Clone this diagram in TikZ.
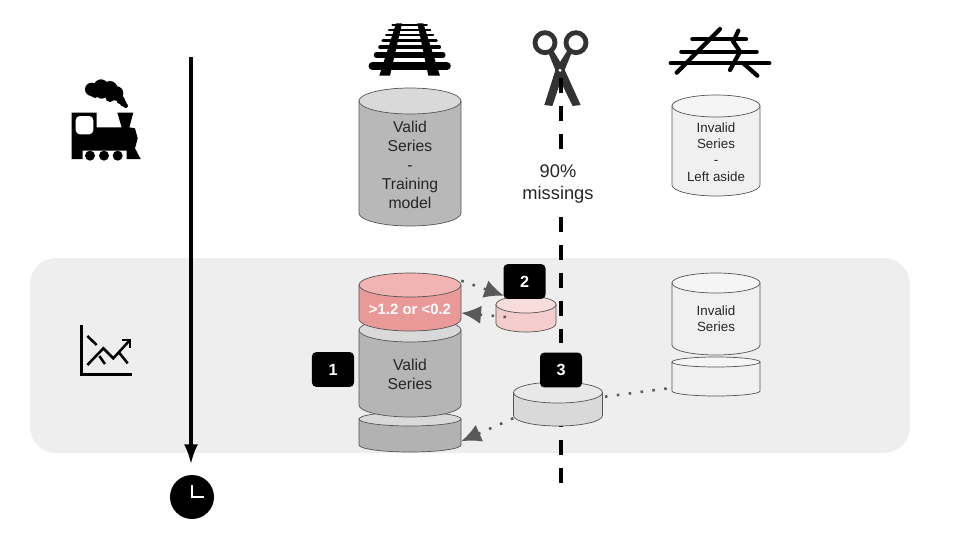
\documentclass[tikz,border=0pt]{standalone}
\usepackage{fontspec}
\setmainfont{Liberation Sans}
\usetikzlibrary{arrows.meta}
\definecolor{bandgray}{HTML}{EEEEEE}
\definecolor{dotgray}{HTML}{595959}
\definecolor{drumedge}{HTML}{555555}
\definecolor{roseside}{HTML}{EA9999}
\definecolor{roselid}{HTML}{F2B3B3}
\definecolor{paleside}{HTML}{F4CCCC}
\definecolor{palelid}{HTML}{F8DCDC}
\tikzset{>=latex}
\tikzset{
  drumtext/.style={align=center,text=black!85,font=\fontsize{11.2}{13.6}\selectfont},
  smalltext/.style={align=center,text=black!85,font=\fontsize{9.5}{11.6}\selectfont},
  badge/.style={fill=black,text=white,rounded corners=3pt,minimum width=1.05cm,minimum height=0.87cm,inner sep=0,font=\fontsize{11.5}{13}\selectfont\bfseries},
  dotted link/.style={dotgray,line width=1.8pt,dash pattern=on 1.8pt off 6.7pt},
  dotted arrow/.style={dotted link,-{Latex[length=14pt,width=13pt]}},
  track/.style={black,line cap=round},
}
% name, x, half width, top, bottom, lid radius, body colour, lid colour
\newcommand{\drum}[8]{%
  \node[inner sep=0,minimum width={2*#3*0.025cm},minimum height={(#5-#4)*0.025cm}] (#1) at (#2,{(#4+#5)/2}) {};
  \draw[drumedge,line width=0.5pt,fill=#7] (#2-#3,#4+#6) -- (#2-#3,#5-#6)
    arc[start angle=180,end angle=0,x radius=#3,y radius=#6] -- (#2+#3,#4+#6) -- cycle;
  \draw[drumedge,line width=0.5pt,fill=#8] (#2,#4+#6) ellipse[x radius=#3,y radius=#6];
}
\begin{document}
\begin{tikzpicture}[x=0.025cm,y=-0.025cm]
\useasboundingbox (0,0) rectangle (960,540);

\fill[bandgray,rounded corners=0.65cm] (30,258) rectangle (910,453);

% time axis
\node[circle,fill=black,minimum size=1.1cm,inner sep=0] (clock) at (192,497) {};
\coordinate (timestart) at (191,57);
\coordinate (timeend) at (191,464);
\draw[-{Latex[length=14pt,width=10pt]},line width=2.2pt] (timestart)--(timeend);
\draw[white,line width=1.8pt] (192,485)--(192,497)--(204,497);

% train
\begin{scope}[shift={(30,10)},scale=1/3]
\fill (125,308)--(200,308)--(200,352)--(275,352)--(262,308)--(310,308)--(298,352)--(315,355)--(323,385)--(315,415)--(332,447)--(290,447)--(290,422)--(158,422)--(158,447)--(125,447)--cycle;
\fill[white,rounded corners=3pt] (137,318) rectangle (190,373);
\foreach \wx in {180,222,263} \fill (\wx,437) circle (15);
\foreach \sx/\sy/\sr in {185/238/20,213/230/22,240/235/22,215/248/18,258/250/22,195/250/14,240/262/14,272/270/13,280/280/10,287/287/7} \fill (\sx,\sy) circle (\sr);
\end{scope}

% chart
\begin{scope}[shift={(60,310)},scale=1/3]
\draw[line width=2pt] (65,45)--(65,193)--(215,193);
\draw[line width=1.8pt] (82,78)--(110,105);
\draw[line width=1.8pt] (118,138)--(135,162);
\draw[line width=1.8pt] (82,165)--(130,115)--(160,145)--(208,92);
\draw[line width=1.8pt] (187,90)--(210,90)--(210,115);
\draw[line width=1.8pt] (175,125)--(203,160);
\end{scope}

% rails
\begin{scope}[shift={(340,10)},scale=1/3]
\foreach \ty/\hw/\lw in {45/52/1.2,60/62/1.6,75/70/2,92/80/2.4,112/88/3,135/100/3.6,168/112/5.4}
  \draw[track,line width=\lw pt] (209-\hw,\ty)--(209+\hw,\ty);
\fill (168,40)--(186,40)--(150,197)--(118,197)--cycle;
\fill (232,40)--(250,40)--(300,197)--(265,197)--cycle;
\end{scope}

% scissors
\begin{scope}[shift={(340,10)},scale=1/3,fill=black!80]
\draw[black!80,line width=3.4pt] (615,98) circle (30) (708,98) circle (30);
\fill (625,128)--(640,122)--(672,175)--(722,285)--(698,288)--(652,195)--cycle;
\fill (695,128)--(682,122)--(648,175)--(613,285)--(637,288)--(668,195)--cycle;
\fill[white] (660,181) circle (5);
\end{scope}

% broken rails
\begin{scope}[shift={(640,10)},scale=1/3]
\draw[track,line width=3pt] (157,88)--(318,88) (124,125)--(350,125) (92,160)--(388,160);
\draw[track,line width=3pt] (240,57)--(110,188);
\draw[track,line width=3pt] (295,62)--(280,95)--(300,125)--(270,180);
\draw[track,line width=3pt] (310,160)--(352,197);
\end{scope}

% cut line
\coordinate (cutstart) at (561,78);
\coordinate (cutend) at (561,487);
\draw[line width=2.5pt,dash pattern=on 10.6pt off 9.2pt] (cutstart)--(cutend);
\node[fill=white,align=center,inner sep=5pt,font=\fontsize{13}{16.3}\selectfont,text=black!85] (missings) at (558,184) {90\%\\missings};

% top row
\drum{trainvalid}{410}{51}{88}{226}{13}{black!28}{black!15}
\node[drumtext] (trainvalidtext) at (410,165) {Valid\\Series\\-\\Training\\model};
\drum{trainaside}{716}{44}{95}{196}{11}{black!6}{black!4}
\node[smalltext] (trainasidetext) at (716,152) {Invalid\\Series\\-\\Left aside};

% bottom row
\drum{validbase}{410}{51}{412}{452}{7}{black!30}{black!15}
\drum{valid}{410}{51}{318}{417}{12}{black!29}{black!15}
\node[drumtext] (validtext) at (410,374) {Valid\\Series};
\drum{filtered}{410}{51}{273}{331}{12}{roseside}{roselid}
\node[white,inner sep=0,font=\fontsize{10.6}{12}\selectfont\bfseries] (filteredtext) at (410,309) {>1.2 or <0.2};
\drum{filteredcopy}{526}{30}{296}{332}{8.5}{paleside}{palelid}
\drum{invalid}{716}{44}{273}{355}{10}{black!6}{black!4}
\node[smalltext] (invalidtext) at (716,319) {Invalid\\Series};
\drum{invalidbase}{716}{44}{357}{396}{5}{black!6}{black!4}
\drum{imputed}{558}{44.5}{382}{426}{10.5}{black!15}{black!9}

% links
\draw[dotted arrow] ([yshift=-0.2cm]filtered.north east)--([xshift=-0.55cm]filteredcopy.north);
\draw[dotted arrow] ([xshift=-0.5cm,yshift=-0.075cm]filteredcopy.center)--([yshift=-0.275cm]filtered.east);
\draw[dotted arrow] ([yshift=0.2cm]imputed.south west)--([yshift=0.275cm]validbase.south east);
\draw[dotted link] ([xshift=-0.125cm,yshift=-0.3cm]invalidbase.west)--([yshift=0.175cm]imputed.east);

\node[badge] (one) at (333,369.5) {1};
\node[badge] (two) at (524.5,281.5) {2};
\node[badge] (three) at (561,370) {3};

\end{tikzpicture}
\end{document}
